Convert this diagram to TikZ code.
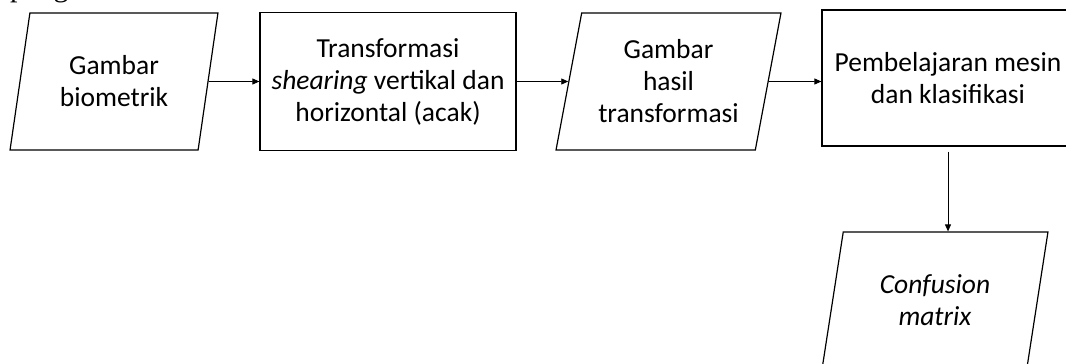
\documentclass[tikz,border=0pt]{standalone}
\usepackage{fontspec}
\setmainfont{Carlito}
\newfontfamily\pagefont{Liberation Serif}
\usetikzlibrary{shapes.geometric,arrows.meta,positioning}
\tikzset{
  process/.style={draw,line width=1.2pt,rectangle,align=center,
    font=\fontsize{27.5}{32}\selectfont},
  io/.style={draw,line width=1.2pt,trapezium,trapezium left angle=76,
    trapezium right angle=104,trapezium stretches=true,align=center,
    minimum width=208pt,minimum height=137pt,inner sep=0pt,
    font=\fontsize{27.5}{32}\selectfont},
  into/.style={{Triangle[length=7pt,width=6pt]}-,line width=0.9pt},
  flow/.style={-{Triangle[length=7pt,width=6pt]},line width=0.9pt}
}

\begin{document}
\begin{tikzpicture}[x=1pt,y=-1pt,node distance=278pt]
\useasboundingbox (0,0) rectangle (1066,364);
\clip (0,0) rectangle (1066,364);

% tail of the line above the figure
\node[anchor=base west,inner sep=0pt,font=\pagefont\fontsize{30}{30}\selectfont] (pagetext) at (10,-3) {pengenalan.};

\node[io] at (114,81.5) (img) {Gambar\\biometrik};
\node[process,minimum width=256pt,minimum height=138pt] [right of=img,xshift=-4pt] (shear)
  {Transformasi\\\textit{shearing} vertikal dan\\horizontal (acak)} edge[into] (img);
\node[io,minimum width=225pt] [right of=shear,xshift=2.5pt] (result)
  {Gambar\\hasil\\transformasi} edge[into] (shear);
\node[process,minimum width=252pt,minimum height=136pt] [right of=result,xshift=1.5pt,yshift=3.5pt] (learn)
  {Pembelajaran mesin\\dan klasifikasi};
\node[io,minimum width=226pt] [below of=learn,node distance=222.5pt,xshift=-13pt] (cm)
  {\textit{Confusion}\\\textit{matrix}};

\draw[flow] (result) -- (result -| learn.west);
\draw[flow,shorten <=5pt] (learn.south) -- (learn.south |- cm.north);

\end{tikzpicture}
\end{document}
